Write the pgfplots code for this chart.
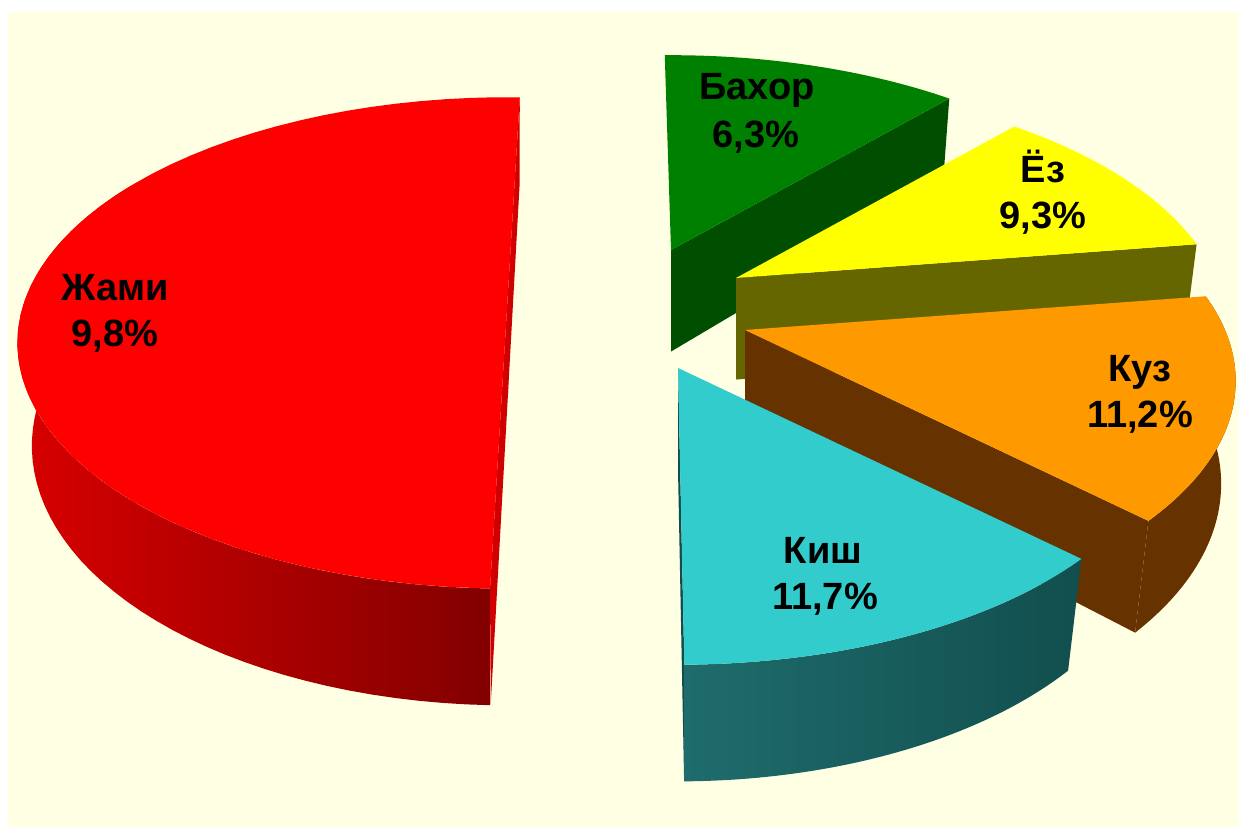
\documentclass[border=0pt]{standalone}
\usepackage{pgfplots}
\pgfplotsset{compat=1.18}
\usepackage{fontspec}
\setmainfont{Liberation Sans}

\definecolor{cream}{HTML}{FFFFE3}
\definecolor{redtop}{HTML}{FF0000}
\definecolor{redcut}{HTML}{D00000}
\definecolor{redrimL}{HTML}{D80000}
\definecolor{redrimR}{HTML}{820000}
\definecolor{greentop}{HTML}{008000}
\definecolor{greencut}{HTML}{004F00}
\definecolor{yellowtop}{HTML}{FFFF00}
\definecolor{yellowcut}{HTML}{666600}
\definecolor{orangetop}{HTML}{FF9900}
\definecolor{orangeside}{HTML}{663300}
\definecolor{cyantop}{HTML}{33CCCC}
\definecolor{cyanrimL}{HTML}{1F6C6C}
\definecolor{cyanrimR}{HTML}{124E4E}

\tikzset{
  declare function={
    PU(\X,\Y,\Z)=2016*\X/(4.2+0.871*\Y-0.49*\Z);
    PV(\X,\Y,\Z)=2016*(0.49*\Y+0.871*\Z)/(4.2+0.871*\Y-0.49*\Z);
    CL(\t)=min(max(\t,0),1);
    RR(\t)=1-(\t+0.01<0)-(\t>1.01);
    WB(\t)=(\t>1.03);
  }
}

% top face of a slice: #1 colour, #2,#3 apex, #4,#5 start/end angle
\newcommand{\topface}[5]{%
  \addplot[draw=none, fill=#1, domain=-0.02:1.02, samples=53, variable=\t]
  ({#2+PU(RR(\t)*cos((#4)+((#5)-(#4))*CL(\t)), RR(\t)*sin((#4)+((#5)-(#4))*CL(\t)), 0)},
   {#3+PV(RR(\t)*cos((#4)+((#5)-(#4))*CL(\t)), RR(\t)*sin((#4)+((#5)-(#4))*CL(\t)), 0)});
}
% outer rim of a slice: #1 style, #2,#3 apex, #4,#5 angles
\newcommand{\rimside}[5]{%
  \addplot[draw=none, #1, domain=0:2.04, samples=103, variable=\t]
  ({#2+PU(cos((#4)+((#5)-(#4))*CL((1-WB(\t))*\t+WB(\t)*(2.04-\t))),
          sin((#4)+((#5)-(#4))*CL((1-WB(\t))*\t+WB(\t)*(2.04-\t))), -0.25*WB(\t))},
   {#3+PV(cos((#4)+((#5)-(#4))*CL((1-WB(\t))*\t+WB(\t)*(2.04-\t))),
          sin((#4)+((#5)-(#4))*CL((1-WB(\t))*\t+WB(\t)*(2.04-\t))), -0.25*WB(\t))});
}
% radial cut face: #1 colour, #2,#3 apex, #4 angle
\newcommand{\cutface}[4]{%
  \addplot[draw=none, fill=#1, domain=0:3, samples=4, variable=\t]
  ({#2+PU((\t>0.5)*(\t<2.5)*cos(#4), (\t>0.5)*(\t<2.5)*sin(#4), -0.25*(\t>1.5))},
   {#3+PV((\t>0.5)*(\t<2.5)*cos(#4), (\t>0.5)*(\t<2.5)*sin(#4), -0.25*(\t>1.5))});
}

\begin{document}
\begin{tikzpicture}
\begin{axis}[
  hide axis,
  x=1pt, y=1pt,
  xmin=0, xmax=1239, ymin=0, ymax=827,
  clip=false,
]
% background
\addplot[draw=none, fill=white] coordinates {(0,0) (1239,0) (1239,827) (0,827)};
\addplot[draw=none, fill=cream] coordinates {(8,0) (1239,0) (1239,815) (8,815)};

% Бахор (green)  angles 48 -- 90.9
\cutface{greencut}{671}{577}{48}
\topface{greentop}{671}{577}{48}{90.9}

% Ёз (yellow)  angles 8.5 -- 48
\cutface{yellowcut}{736}{549}{8.5}
\topface{yellowtop}{736}{549}{8.5}{48}

% Куз (orange)  angles -44 -- 8.5
\cutface{orangeside}{745}{497}{-44}
\rimside{fill=orangeside}{745}{497}{-44}{8.5}
\topface{orangetop}{745}{497}{-44}{8.5}

% Киш (cyan)  angles -89.4 -- -44
\cutface{cyanrimR}{678}{459}{-89.4}
\rimside{left color=cyanrimL, right color=cyanrimR}{678}{459}{-89.4}{-44}
\topface{cyantop}{678}{459}{-89.4}{-44}

% Жами (red)  angles 88.3 -- 268.3
\cutface{redcut}{508}{535}{88.3}
\cutface{redcut}{508}{535}{268.3}
\rimside{left color=redrimL, right color=redrimR}{508}{535}{150}{268.3}
\topface{redtop}{508}{535}{88.3}{268.3}

% labels
\begin{scope}[every node/.style={anchor=base, font=\fontsize{38}{46}\selectfont\bfseries, text=black}]
\node at (axis cs:757,727) {Бахор};
\node at (axis cs:756,679) {6,3\%};
\node at (axis cs:1043,644) {Ёз};
\node at (axis cs:1043,598) {9,3\%};
\node at (axis cs:1140,445) {Куз};
\node at (axis cs:1140,399) {11,2\%};
\node at (axis cs:823,263) {Киш};
\node at (axis cs:825,217) {11,7\%};
\node at (axis cs:115,526) {Жами};
\node at (axis cs:115,480) {9,8\%};
\end{scope}
\end{axis}
\end{tikzpicture}
\end{document}
